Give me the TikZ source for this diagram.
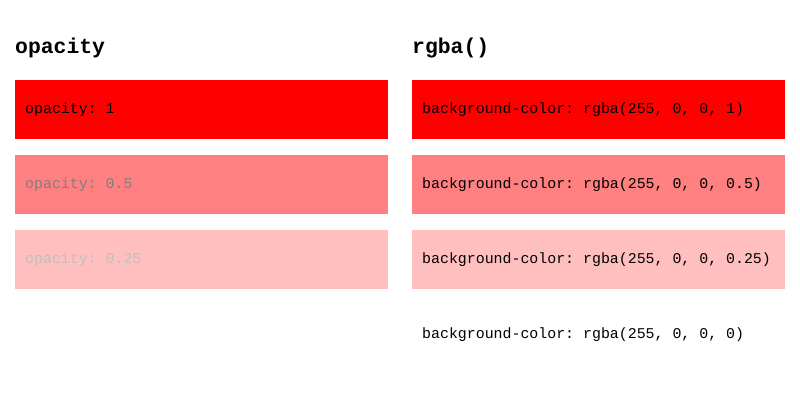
\documentclass[tikz,border=0pt]{standalone}
\usepackage{fontspec}
\setmonofont{Liberation Mono}
\definecolor{boxred}{RGB}{255,0,0}
\definecolor{boxhalf}{RGB}{255,128,128}
\definecolor{boxquarter}{RGB}{255,191,191}
\definecolor{txthalf}{RGB}{128,128,128}
\definecolor{txtquarter}{RGB}{191,191,191}
\newcommand{\mycellfont}{\fontsize{14.9}{16}\selectfont\ttfamily}
\tikzset{
  cell/.style={rectangle, inner xsep=10pt, inner ysep=0pt, minimum height=58.7pt,
    text width=353pt, align=flush left, anchor=north west, font=\mycellfont},
  heading/.style={anchor=base west, inner sep=0pt,
    font=\fontsize{21.4}{24}\selectfont\ttfamily\bfseries}
}
\begin{document}
\begin{tikzpicture}[x=1pt,y=-1pt]
\useasboundingbox[fill=white] (0,0) rectangle (800,400);
\node[heading] (h1) at (15,53) {opacity};
\node[heading] (h2) at (412,53) {rgba()};
\node[cell, fill=boxred, text=black] (l1) at (15,80) {opacity: 1};
\node[cell, fill=boxhalf, text=txthalf] (l2) at (15,155) {opacity: 0.5};
\node[cell, fill=boxquarter, text=txtquarter] (l3) at (15,230) {opacity: 0.25};
\node[cell, fill=boxred] (r1) at (412,80) {background-color: rgba(255, 0, 0, 1)};
\node[cell, fill=boxhalf] (r2) at (412,155) {background-color: rgba(255, 0, 0, 0.5)};
\node[cell, fill=boxquarter] (r3) at (412,230) {background-color: rgba(255, 0, 0, 0.25)};
\node[cell] (r4) at (412,305) {background-color: rgba(255, 0, 0, 0)};
\end{tikzpicture}
\end{document}
